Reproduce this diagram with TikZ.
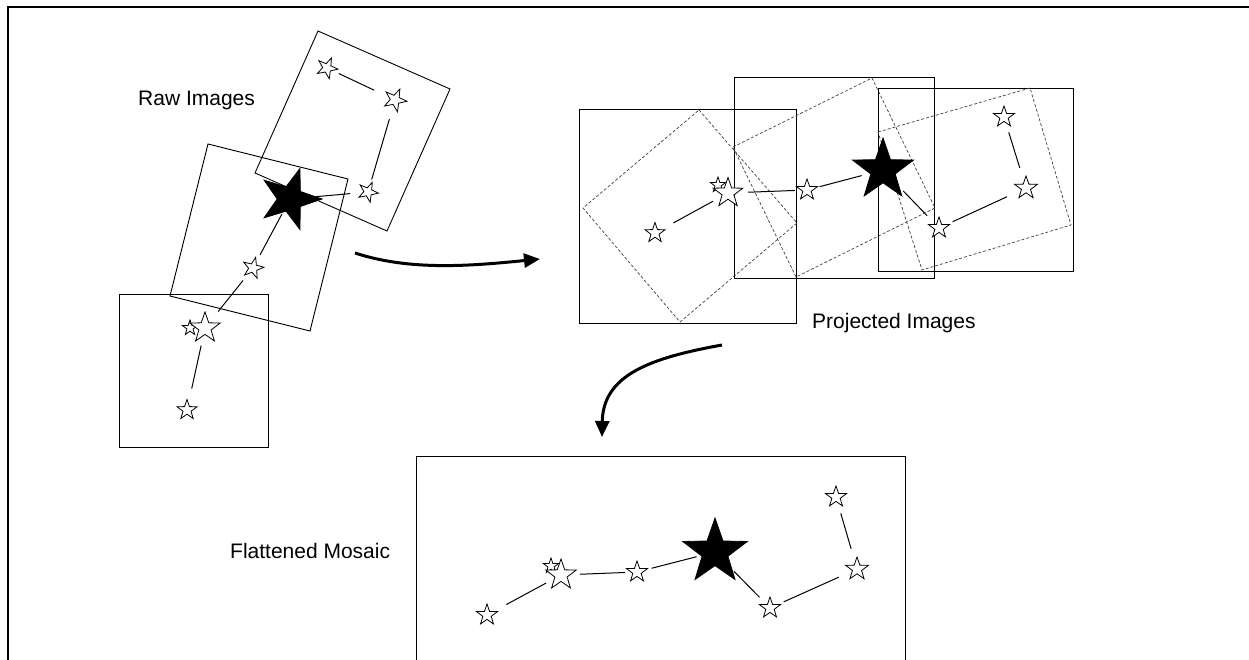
\documentclass[tikz,border=0pt]{standalone}
\usepackage{fontspec}
\setmainfont{Liberation Sans}
\usetikzlibrary{shapes.geometric,arrows.meta}
\tikzset{
 box/.style={draw, line width=0.9pt},
 dbox/.style={draw=black!75, line width=0.7pt, dash pattern=on 3pt off 2pt},
 link/.style={line width=1pt},
 ostar/.style={star, star points=5, star point ratio=2.5, draw, fill=white, line width=0.8pt, inner sep=0pt, outer sep=0pt},
 fstar/.style={ostar, fill=black},
 bigarrow/.style={line width=3pt, -{Triangle[length=16pt,width=14pt]}},
 lbl/.style={font=\fontsize{21}{25}\selectfont, inner sep=0pt, anchor=base west}
}
\begin{document}
\begin{tikzpicture}[x=1pt,y=-1pt]
\useasboundingbox (0,0) rectangle (1249,660);
% frame
\draw[line width=1.8pt] (8,665) -- (8,7) -- (1255,7);
% ---------- raw images ----------
\draw[box] (318,31) -- (450,89) -- (387,231) -- (255,173) -- cycle;
\draw[box] (208,144) -- (348,179) -- (310,331) -- (170,296) -- cycle;
\draw[box] (119,294) rectangle (268,447);
\node[lbl] (lraw) at (138,106) {Raw Images};
\node[ostar, minimum size=22pt, rotate=-24] (r1a) at (327,68) {};
\node[ostar, minimum size=24pt, rotate=-24] (r1b) at (395,100) {};
\node[ostar, minimum size=21pt, rotate=-24] (r1c) at (368,192) {};
\node[fstar, minimum size=64pt, rotate=-18] (RF) at (290,199) {};
\node[ostar, minimum size=22pt, rotate=-14] (r2a) at (253,268) {};
\node[ostar, minimum size=16pt] (r3t) at (190,328) {};
\node[ostar, minimum size=32pt] (r3b) at (205,328) {};
\node[ostar, minimum size=21pt] (r3s) at (187,410) {};
\draw[link, shorten <=13pt, shorten >=23pt] (r1a.center) -- (r1b.center);
\draw[link, shorten <=20pt, shorten >=13pt] (r1b.center) -- (r1c.center);
\draw[link, shorten <=18pt, shorten >=18pt] (RF.center) -- (r1c.center);
\draw[link, shorten <=17pt, shorten >=15pt] (RF.center) -- (r2a.center);
\draw[link, shorten <=16pt, shorten >=21pt] (r2a.center) -- (r3b.center);
\draw[link, shorten <=18pt, shorten >=22pt] (r3b.center) -- (r3s.center);
% arrow 1
\coordinate (a1s) at (355,253);
\coordinate (a1e) at (540,259);
\draw[bigarrow] (a1s) .. controls (410,271) and (470,266) .. (a1e);
% ---------- projected images ----------
\draw[box] (579,109) rectangle (796,323);
\draw[dbox] (699,110) -- (797,223) -- (680,322) -- (583,208) -- cycle;
\draw[box] (734,77) rectangle (934,278);
\draw[dbox] (733,147) -- (872,78) -- (935,208) -- (796,277) -- cycle;
\draw[box] (878,88) rectangle (1073,271);
\draw[dbox] (878,132) -- (1030,88) -- (1071,225) -- (922,270) -- cycle;
\node[lbl] (lproj) at (812,328) {Projected Images};
\node[ostar, minimum size=21pt] (p1) at (655,233) {};
\node[ostar, minimum size=16pt] (pt) at (718,185) {};
\node[ostar, minimum size=31pt] (pb) at (728,193) {};
\node[ostar, minimum size=22pt] (p2) at (807,190) {};
\node[fstar, minimum size=64pt] (PF) at (883,170) {};
\node[ostar, minimum size=22pt] (p3) at (939,228) {};
\node[ostar, minimum size=24pt] (p4) at (1026,188) {};
\node[ostar, minimum size=22pt] (p5) at (1004,117) {};
\draw[link, shorten <=21pt, shorten >=17pt] (p1.center) -- (pb.center);
\draw[link, shorten <=20pt, shorten >=12pt] (pb.center) -- (p2.center);
\draw[link, shorten <=13pt, shorten >=22pt] (p2.center) -- (PF.center);
\draw[link, shorten <=29pt, shorten >=17pt] (PF.center) -- (p3.center);
\draw[link, shorten <=15pt, shorten >=21pt] (p3.center) -- (p4.center);
\draw[link, shorten <=21pt, shorten >=16pt] (p4.center) -- (p5.center);
% arrow 2
\coordinate (a2s) at (722,345);
\coordinate (a2e) at (602,437);
\draw[bigarrow] (a2s) .. controls (650,358) and (603,375) .. (a2e);
% ---------- flattened mosaic ----------
\draw[box] (416,670) -- (416,456) -- (905,456) -- (905,670);
\node[lbl] (lmos) at (230,558) {Flattened Mosaic};
\node[ostar, minimum size=22pt] (m1) at (487,615) {};
\node[ostar, minimum size=16pt] (mt) at (551,566) {};
\node[ostar, minimum size=32pt] (mb) at (561,575) {};
\node[ostar, minimum size=22pt] (m2) at (637,572) {};
\node[fstar, minimum size=68pt] (MF) at (715,552) {};
\node[ostar, minimum size=22pt] (m3) at (770,608) {};
\node[ostar, minimum size=24pt] (m4) at (857,569) {};
\node[ostar, minimum size=22pt] (m5) at (836,497) {};
\draw[link, shorten <=22pt, shorten >=17pt] (m1.center) -- (mb.center);
\draw[link, shorten <=19pt, shorten >=12pt] (mb.center) -- (m2.center);
\draw[link, shorten <=15pt, shorten >=19pt] (m2.center) -- (MF.center);
\draw[link, shorten <=27pt, shorten >=15pt] (MF.center) -- (m3.center);
\draw[link, shorten <=15pt, shorten >=20pt] (m3.center) -- (m4.center);
\draw[link, shorten <=21pt, shorten >=17pt] (m4.center) -- (m5.center);
\end{tikzpicture}
\end{document}
